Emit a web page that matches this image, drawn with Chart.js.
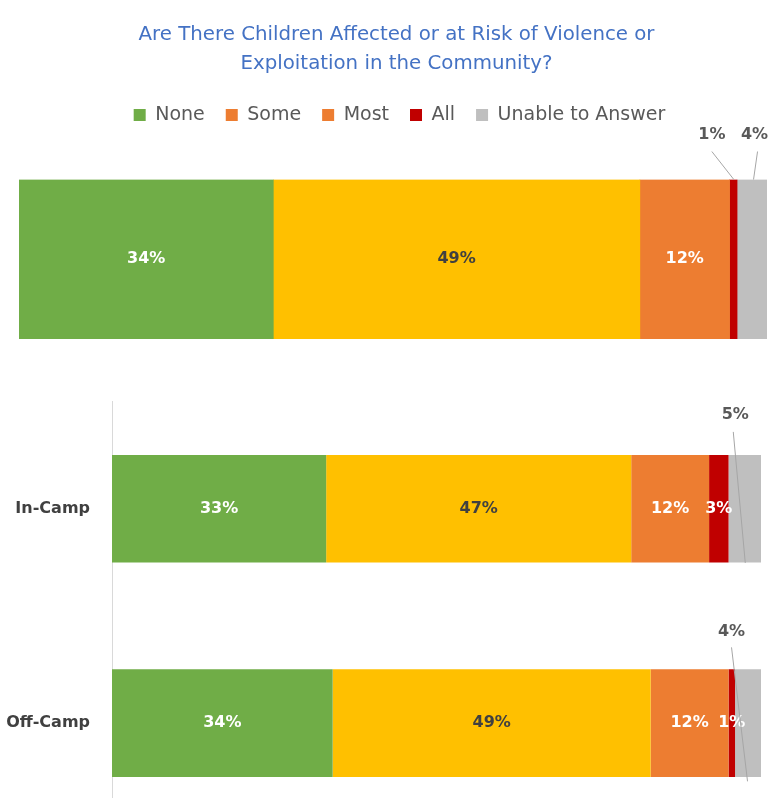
<!DOCTYPE html>
<html>
<head>
<meta charset="utf-8">
<script src="https://cdn.jsdelivr.net/npm/chart.js@4"></script>
<style>
  html, body { margin: 0; padding: 0; background: #fff; overflow: hidden; }
  body { width: 779px; height: 798px; position: relative; }
  #topCanvas { position: absolute; left: 0; top: 0; }
  #bottomCanvas { position: absolute; left: 0; top: 350px; }
</style>
</head>
<body>
<canvas id="topCanvas" width="779" height="350"></canvas>
<canvas id="bottomCanvas" width="779" height="512"></canvas>
<script>
// answer categories
const seriesNames = ['None', 'Some', 'Most', 'All', 'Unable to Answer'];
const barColors = ['#70AD47', '#FFC000', '#ED7D31', '#C00000', '#BFBFBF'];
const legendColors = ['#70AD47', '#ED7D31', '#ED7D31', '#C00000', '#BFBFBF'];
const labelColors = ['#FFFFFF', '#404040', '#FFFFFF', '#FFFFFF', '#595959'];

// overall (top bar)
const overallLabels = [''];
const overallValues = [34, 49, 12, 1, 4];

// by location (bottom chart)
const groupLabels = ['In-Camp', 'Off-Camp'];
const noneByGroup = [33, 34];
const someByGroup = [47, 49];
const mostByGroup = [12, 12];
const allByGroup = [3, 1];
const unableByGroup = [5, 4];

const FONT = '"DejaVu Sans", Lato, sans-serif';

// draws percentages in the middle of each segment, or above it with a leader line
const valueLabels = {
    id: 'valueLabels',
    afterDatasetsDraw(chart, args, opts) {
        const ctx = chart.ctx;
        const callouts = opts.callouts || [];
        chart.data.datasets.forEach((ds, di) => {
            const meta = chart.getDatasetMeta(di);
            if (meta.hidden) return;
            meta.data.forEach((bar, i) => {
                const text = ds.data[i] + '%';
                const cx = (bar.x + bar.base) / 2;
                const top = bar.y - bar.height / 2;
                const c = callouts.find(o => o.dataset === di && o.index === i);
                ctx.save();
                ctx.font = 'bold 16px ' + FONT;
                ctx.textAlign = 'center';
                ctx.textBaseline = 'middle';
                if (c) {
                    const lx = cx + c.dx, ly = top + c.dy;
                    ctx.strokeStyle = '#A6A6A6';
                    ctx.lineWidth = 1;
                    ctx.beginPath();
                    ctx.moveTo(lx + c.sx, ly + c.sy);
                    ctx.lineTo(cx + c.ex, top + c.ey);
                    ctx.stroke();
                    ctx.fillStyle = '#595959';
                    ctx.fillText(text, lx, ly);
                } else {
                    ctx.fillStyle = ds.labelColor;
                    ctx.fillText(text, cx, bar.y);
                }
                ctx.restore();
            });
        });
    }
};

// extra room under the legend, and nudge title/legend a little right
const legendGap = {
    id: 'legendGap',
    beforeInit(chart) {
        const fit = chart.legend.fit;
        chart.legend.fit = function () {
            fit.bind(chart.legend)();
            this.height += 45;
        };
    },
    afterLayout(chart) {
        chart.legend.left += 6.5;
        chart.legend.right += 6.5;
        chart.titleBlock.left += 3.5;
        chart.titleBlock.right += 3.5;
    }
};

function makeDatasets(valueLists, barPct) {
    return seriesNames.map((name, k) => ({
        label: name,
        data: valueLists[k],
        backgroundColor: barColors[k],
        legendColor: legendColors[k],
        labelColor: labelColors[k],
        borderWidth: 0,
        barPercentage: barPct,
        categoryPercentage: 1
    }));
}

// top chart: overall
new Chart(document.getElementById('topCanvas'), {
    type: 'bar',
    data: { labels: overallLabels, datasets: makeDatasets(overallValues.map(v => [v]), 1) },
    plugins: [valueLabels, legendGap],
    options: {
        indexAxis: 'y',
        responsive: false,
        animation: false,
        layout: { padding: { left: 19, right: 12, top: 0, bottom: 11 } },
        scales: {
            x: { stacked: true, min: 0, max: 100, display: false },
            y: { stacked: true, display: false }
        },
        plugins: {
            tooltip: { enabled: false },
            title: {
                display: true,
                text: ['Are There Children Affected or at Risk of Violence or', 'Exploitation in the Community?'],
                color: '#4472C4',
                font: { family: FONT, size: 19.8, weight: 'normal', lineHeight: 1.465 },
                padding: { top: 20, bottom: 6.5 }
            },
            legend: {
                display: true,
                position: 'top',
                labels: {
                    color: '#595959',
                    font: { family: FONT, size: 19 },
                    boxWidth: 12,
                    boxHeight: 12,
                    padding: 21,
                    generateLabels(chart) {
                        return chart.data.datasets.map((ds, k) => ({
                            text: ds.label,
                            fillStyle: ds.legendColor,
                            strokeStyle: ds.legendColor,
                            lineWidth: 0,
                            fontColor: '#595959',
                            datasetIndex: k
                        }));
                    }
                }
            },
            valueLabels: {
                callouts: [
                    { dataset: 3, index: 0, dx: -21.5, dy: -45, sx: 0, sy: 17, ex: 0.5, ey: 0 },
                    { dataset: 4, index: 0, dx: 2.5, dy: -45, sx: 3, sy: 17, ex: 1.5, ey: 0 }
                ]
            }
        }
    }
});

// bottom chart: in-camp vs off-camp
new Chart(document.getElementById('bottomCanvas'), {
    type: 'bar',
    data: {
        labels: groupLabels,
        datasets: makeDatasets([noneByGroup, someByGroup, mostByGroup, allByGroup, unableByGroup], 0.502)
    },
    plugins: [valueLabels],
    options: {
        indexAxis: 'y',
        responsive: false,
        animation: false,
        layout: { padding: { left: 0, right: 18, top: 51.5, bottom: 8.5 } },
        scales: {
            x: { stacked: true, min: 0, max: 100, display: false },
            y: {
                stacked: true,
                grid: { display: false, drawTicks: false },
                border: { display: true, color: '#D9D9D9', width: 1 },
                ticks: {
                    color: '#404040',
                    font: { family: FONT, size: 16, weight: 'bold' },
                    padding: 22
                },
                afterFit(scale) { scale.width = 112; }
            }
        },
        plugins: {
            tooltip: { enabled: false },
            title: { display: false },
            legend: { display: false },
            valueLabels: {
                callouts: [
                    { dataset: 4, index: 0, dx: -9.5, dy: -40, sx: -2, sy: 17, ex: 0.5, ey: 108 },
                    { dataset: 4, index: 1, dx: -16.5, dy: -38, sx: 0, sy: 16, ex: -0.5, ey: 112 }
                ]
            }
        }
    }
});
</script>
</body>
</html>
